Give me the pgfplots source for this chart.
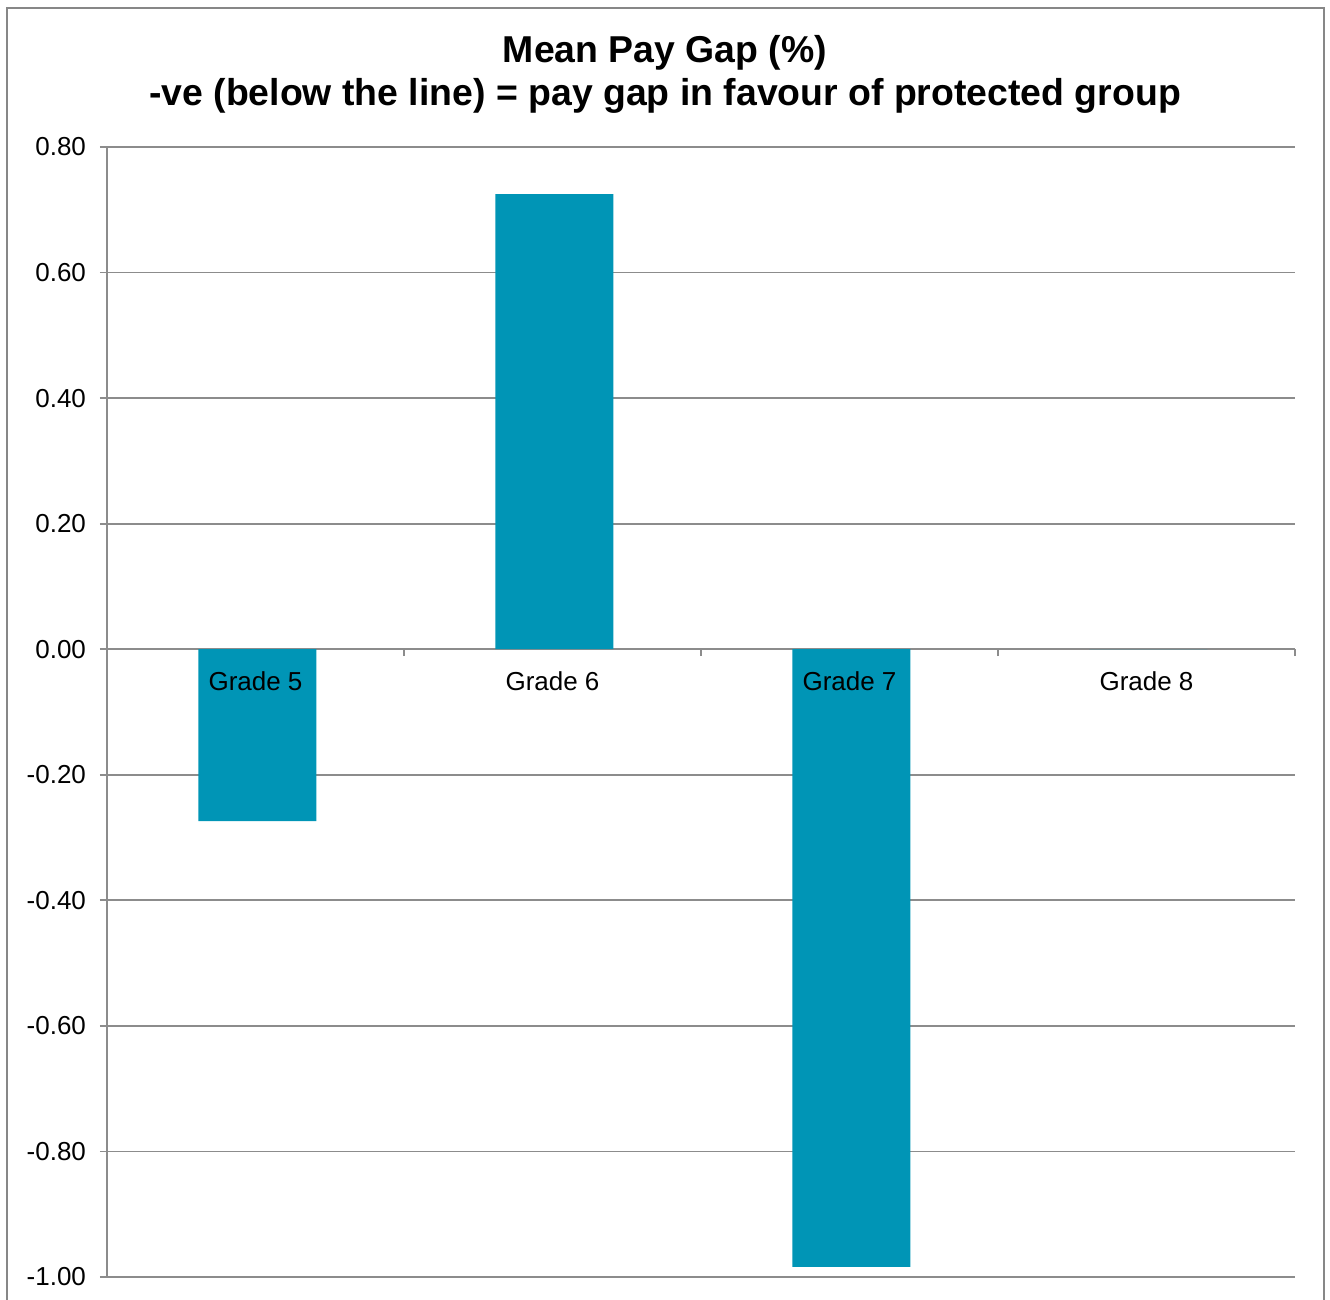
\documentclass[border=0pt]{standalone}
\usepackage{fontspec}
\setmainfont{Liberation Sans}
\usepackage{pgfplots}
\pgfplotsset{compat=1.18}
\definecolor{barc}{HTML}{0095B6}
\definecolor{gridc}{HTML}{8C8C8C}
\definecolor{framec}{HTML}{878787}
\begin{document}
\begin{tikzpicture}
\path[use as bounding box] (0,0) rectangle (665pt,650pt);
\draw[framec, line width=1pt] (3.5pt,-2pt) -- (3.5pt,646pt) -- (662pt,646pt) -- (662pt,-2pt);
\node[font=\bfseries\fontsize{18.7}{22}\selectfont] at (332.5pt,623.5pt) {Mean Pay Gap (\%)};
\node[font=\bfseries\fontsize{18.7}{22}\selectfont] at (332.5pt,602pt) {-ve (below the line) = pay gap in favour of protected group};
\begin{axis}[
  at={(53.5pt,11.5pt)}, anchor=south west,
  scale only axis, width=594pt, height=565pt,
  xmin=0.5, xmax=4.5, ymin=-1, ymax=0.8,
  ybar, bar width=59pt,
  axis y line*=left, axis x line*=middle,
  axis line style={gridc, line width=0.9pt, -},
  xtick={0.5,1.5,2.5,3.5,4.5}, xticklabels={},
  xtick align=outside, ytick align=outside,
  major tick length=3.5pt,
  tick style={gridc, line width=0.9pt},
  ytick={-1,-0.8,-0.6,-0.4,-0.2,0,0.2,0.4,0.6,0.8},
  ymajorgrids, grid style={gridc, line width=0.9pt},
  /pgf/number format/assume math mode=true,
  yticklabel={\pgfmathprintnumber[fixed,fixed zerofill,precision=2]{\tick}},
  yticklabel style={font=\fontsize{13}{15}\selectfont, xshift=-3.5pt},
  clip=false,
]
\addplot[fill=barc, draw=none, bar shift=1pt] coordinates {(1,-0.274) (2,0.725) (3,-0.984) (4,0)};
\node[font=\fontsize{13}{15}\selectfont] at (axis cs:1,0) [yshift=-16pt] {Grade 5};
\node[font=\fontsize{13}{15}\selectfont] at (axis cs:2,0) [yshift=-16pt] {Grade 6};
\node[font=\fontsize{13}{15}\selectfont] at (axis cs:3,0) [yshift=-16pt] {Grade 7};
\node[font=\fontsize{13}{15}\selectfont] at (axis cs:4,0) [yshift=-16pt] {Grade 8};
\end{axis}
\end{tikzpicture}
\end{document}
